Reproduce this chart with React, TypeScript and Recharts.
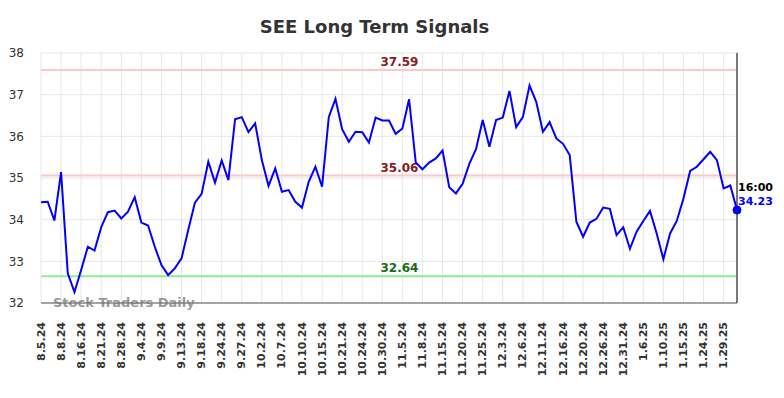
import React from "react";
import {
  LineChart,
  Line,
  XAxis,
  YAxis,
  CartesianGrid,
  ReferenceLine,
  ReferenceDot,
} from "recharts";

const tickLabels = [
  "8.5.24", "8.8.24", "8.16.24", "8.21.24", "8.28.24", "9.4.24", "9.9.24",
  "9.13.24", "9.18.24", "9.24.24", "9.27.24", "10.2.24", "10.7.24", "10.10.24",
  "10.15.24", "10.21.24", "10.24.24", "10.30.24", "11.5.24", "11.8.24",
  "11.15.24", "11.20.24", "11.25.24", "12.3.24", "12.6.24", "12.11.24",
  "12.16.24", "12.20.24", "12.26.24", "12.31.24", "1.6.25", "1.10.25",
  "1.15.25", "1.24.25", "1.29.25",
];

const prices = [
  34.42, 34.43, 33.98, 35.14, 32.71, 32.26, 32.79, 33.35, 33.26, 33.82,
  34.18, 34.22, 34.03, 34.19, 34.54, 33.93, 33.86, 33.35, 32.91, 32.67,
  32.83, 33.07, 33.75, 34.41, 34.62, 35.39, 34.89, 35.42, 34.95, 36.41,
  36.46, 36.10, 36.31, 35.43, 34.81, 35.23, 34.67, 34.71, 34.43, 34.29,
  34.91, 35.27, 34.79, 36.46, 36.90, 36.17, 35.87, 36.11, 36.10, 35.85,
  36.45, 36.38, 36.38, 36.06, 36.19, 36.89, 35.37, 35.21, 35.37, 35.47,
  35.66, 34.78, 34.63, 34.86, 35.34, 35.69, 36.39, 35.75, 36.39, 36.45,
  37.09, 36.22, 36.46, 37.22, 36.83, 36.11, 36.34, 35.95, 35.82, 35.55,
  33.95, 33.59, 33.93, 34.02, 34.29, 34.26, 33.63, 33.82, 33.30, 33.71,
  33.97, 34.21, 33.67, 33.05, 33.67, 33.97, 34.51, 35.17, 35.27, 35.45,
  35.63, 35.43, 34.75, 34.82, 34.23,
];

const yTicks = [32, 33, 34, 35, 36, 37, 38];
const upperSignal = 37.59;
const midSignal = 35.06;
const lowerSignal = 32.64;
const lastTime = "16:00";
const tickStep = 3;

const data = prices.map((v, i) => ({ i, v }));
const xTicks = tickLabels.map((_, k) => k * tickStep);
const lastIndex = prices.length - 1;
const lastPrice = prices[lastIndex];

const FONT = "'DejaVu Sans', sans-serif";

const XTick = (props: any) => {
  const { x, y, payload } = props;
  const label = tickLabels[Math.round(payload.value / tickStep)] ?? "";
  const ty = y + 11;
  return (
    <text
      x={x}
      y={ty}
      transform={`rotate(-90, ${x}, ${ty})`}
      textAnchor="end"
      dominantBaseline="central"
      fontFamily={FONT}
      fontSize={11}
      fontWeight="bold"
      fill="#333"
    >
      {label}
    </text>
  );
};

const refLabel = (text: string, color: string) => (p: any) => {
  const vb = p.viewBox || {};
  return (
    <text
      x={vb.x + vb.width / 2 + 10.5}
      y={vb.y - 4}
      textAnchor="middle"
      fontFamily={FONT}
      fontSize={12}
      fontWeight="bold"
      fill={color}
    >
      {text}
    </text>
  );
};

const endLabel = (p: any) => {
  const vb = p.viewBox || {};
  const cx = vb.x + (vb.width || 0) / 2;
  const cy = vb.y + (vb.height || 0) / 2;
  return (
    <g>
      <text
        x={cx + 1}
        y={cy - 19}
        fontFamily={FONT}
        fontSize={11}
        fontWeight="bold"
        fill="#000"
      >
        {lastTime}
      </text>
      <text
        x={cx + 1}
        y={cy - 5}
        fontFamily={FONT}
        fontSize={11}
        fontWeight="bold"
        fill="#0000ff"
      >
        {lastPrice.toFixed(2)}
      </text>
    </g>
  );
};

export default function App() {
  return (
    <div
      style={{
        position: "absolute",
        left: 0,
        top: 0,
        width: 784,
        height: 398,
        background: "#fff",
        fontFamily: FONT,
      }}
    >
      <div
        style={{
          position: "absolute",
          left: 0,
          top: 18,
          width: 749,
          textAlign: "center",
          fontSize: 18,
          lineHeight: "18px",
          fontWeight: "bold",
          color: "#333",
          whiteSpace: "nowrap",
        }}
      >
        SEE Long Term Signals
      </div>
      <LineChart
        width={784}
        height={398}
        data={data}
        margin={{ top: 53, right: 47, left: 0, bottom: 0 }}
      >
        <CartesianGrid stroke="#e6e6e6" strokeWidth={1} />
        <XAxis
          dataKey="i"
          type="number"
          domain={[0, lastIndex]}
          ticks={xTicks}
          interval={0}
          height={95}
          tick={<XTick />}
          tickLine={false}
          axisLine={{ stroke: "#555", strokeWidth: 1 }}
          allowDecimals={false}
        />
        <YAxis
          type="number"
          domain={[32, 38]}
          ticks={yTicks}
          width={41}
          tickLine={false}
          axisLine={false}
          tickMargin={11}
          tick={{ fontFamily: FONT, fontSize: 12, fill: "#333" }}
          interval={0}
        />
        <ReferenceLine
          y={upperSignal}
          stroke="#ffc8c8"
          strokeWidth={2}
          label={refLabel(upperSignal.toFixed(2), "#8b1a1a")}
        />
        <ReferenceLine
          y={midSignal}
          stroke="#ffc8c8"
          strokeWidth={2}
          label={refLabel(midSignal.toFixed(2), "#8b1a1a")}
        />
        <ReferenceLine
          y={lowerSignal}
          stroke="#90ee90"
          strokeWidth={2}
          label={refLabel(lowerSignal.toFixed(2), "#1a6b1a")}
        />
        <ReferenceLine x={lastIndex} stroke="#777" strokeWidth={2} />
        <Line
          type="linear"
          dataKey="v"
          stroke="#0000ff"
          strokeWidth={2}
          dot={false}
          activeDot={false}
          isAnimationActive={false}
        />
        <ReferenceDot
          x={lastIndex}
          y={lastPrice}
          r={4}
          fill="#0000ff"
          stroke="#0000ff"
          ifOverflow="visible"
          label={endLabel}
        />
      </LineChart>
      <div
        style={{
          position: "absolute",
          left: 53,
          top: 296,
          fontSize: 13,
          lineHeight: "13px",
          fontWeight: "bold",
          color: "rgba(120,120,120,0.75)",
          whiteSpace: "nowrap",
        }}
      >
        Stock Traders Daily
      </div>
    </div>
  );
}
